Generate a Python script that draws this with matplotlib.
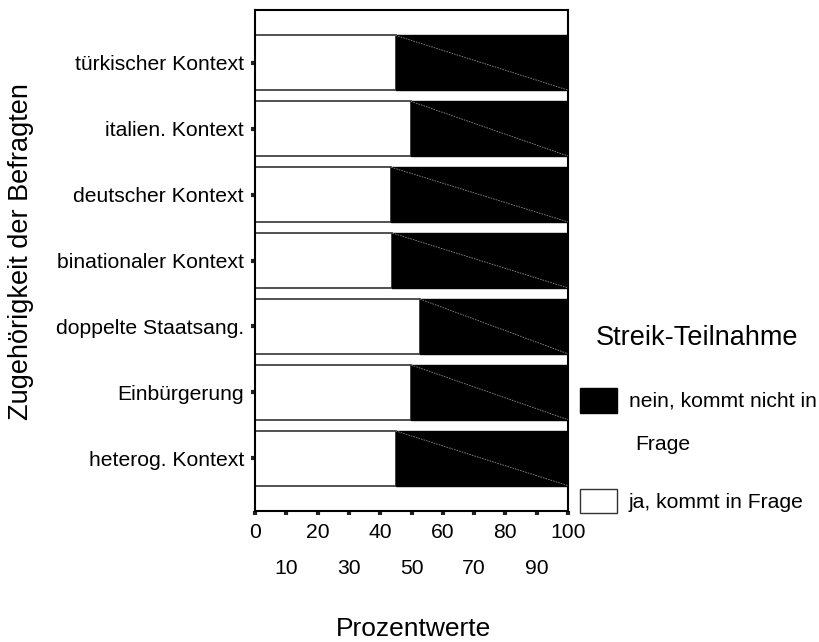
import matplotlib
matplotlib.use("Agg")
import matplotlib.pyplot as plt
from matplotlib.patches import Rectangle

plt.rcParams['font.family'] = ['Liberation Sans', 'DejaVu Sans']

categories = ["türkischer Kontext", "italien. Kontext", "deutscher Kontext",
              "binationaler Kontext", "doppelte Staatsang.", "Einbürgerung",
              "heterog. Kontext"]
ja_values = [44.9, 49.8, 43.5, 43.9, 52.7, 49.9, 44.9]
nein_values = [100 - v for v in ja_values]
major_ticks = [0, 20, 40, 60, 80, 100]
minor_ticks = [10, 30, 50, 70, 90]

W, H = 819, 642
fig = plt.figure(figsize=(W / 100, H / 100), dpi=100)
ax = fig.add_axes([255 / W, 1 - 511 / H, (568 - 255) / W, (511 - 10) / H])

pos = list(range(len(categories)))
h = 0.83
ax.barh(pos, ja_values, height=h, color="white", edgecolor="#333333", linewidth=1.2)
ax.barh(pos, nein_values, left=ja_values, height=h, color="black", edgecolor="black", linewidth=1.0)
for p, v in zip(pos, ja_values):
    ax.plot([v, 100], [p - h / 2, p + h / 2], color="#888888", lw=0.6,
            linestyle=(0, (2, 1.2)), zorder=3)

ax.set_xlim(0, 100)
ax.set_ylim(len(categories) - 1 + 0.8, -0.8)
ax.set_yticks(pos)
ax.set_yticklabels(categories, fontsize=15.2)
ax.tick_params(axis='y', length=3, width=3, pad=5, color="#222222")

ax.set_xticks(major_ticks)
ax.set_xticklabels([str(t) for t in major_ticks], fontsize=15.2)
ax.set_xticks(minor_ticks, minor=True)
ax.set_xticklabels([str(t) for t in minor_ticks], minor=True, fontsize=15.2)
ax.tick_params(axis='x', which='major', length=3, width=3, pad=6, color="#222222")
ax.tick_params(axis='x', which='minor', length=3, width=3, pad=31.5, color="#222222")

for s in ax.spines.values():
    s.set_linewidth(1.5)
    s.set_color("black")

fig.text(21 / W, 1 - 252 / H, "Zugehörigkeit der Befragten", rotation=90,
         ha="center", va="center", fontsize=19.5)
fig.text(414 / W, 1 - 629 / H, "Prozentwerte", ha="center", va="center", fontsize=19)

# legend
fig.text(697 / W, 1 - 338 / H, "Streik-Teilnahme", ha="center", va="center", fontsize=19.5)
fig.patches.append(Rectangle((580 / W, 1 - 413 / H), 37 / W, 25 / H, transform=fig.transFigure,
                             facecolor="black", edgecolor="black", lw=1))
fig.text(629 / W, 1 - 401 / H, "nein, kommt nicht in", ha="left", va="center", fontsize=15.2)
fig.text(635 / W, 1 - 444 / H, "Frage", ha="left", va="center", fontsize=15.2)
fig.patches.append(Rectangle((580 / W, 1 - 513 / H), 37 / W, 24 / H, transform=fig.transFigure,
                             facecolor="white", edgecolor="#333333", lw=1))
fig.text(629 / W, 1 - 502 / H, "ja, kommt in Frage", ha="left", va="center", fontsize=15.2)

fig.savefig("out.png", dpi=100)
